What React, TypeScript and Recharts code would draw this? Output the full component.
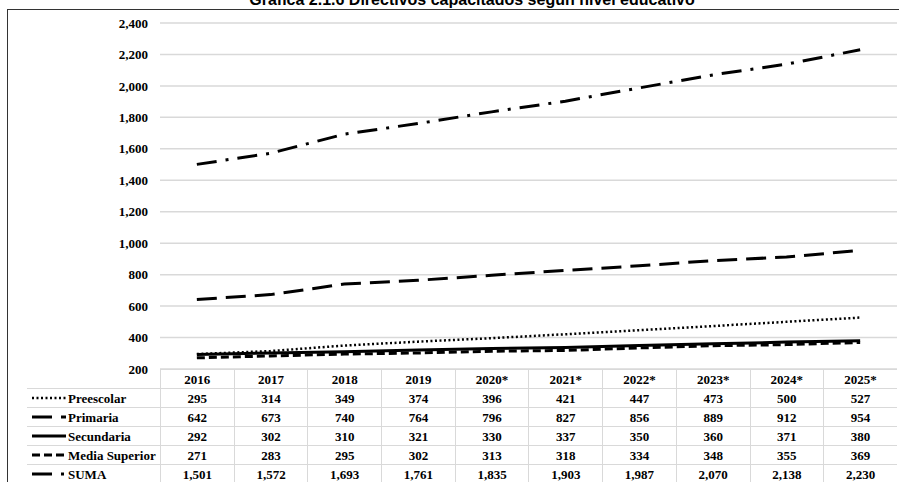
import React from "react";
import { LineChart, Line, XAxis, YAxis, CartesianGrid } from "recharts";

const years = ["2016", "2017", "2018", "2019", "2020*", "2021*", "2022*", "2023*", "2024*", "2025*"];
const preescolar = [295, 314, 349, 374, 396, 421, 447, 473, 500, 527];
const primaria = [642, 673, 740, 764, 796, 827, 856, 889, 912, 954];
const secundaria = [292, 302, 310, 321, 330, 337, 350, 360, 371, 380];
const mediaSuperior = [271, 283, 295, 302, 313, 318, 334, 348, 355, 369];
const suma = [1501, 1572, 1693, 1761, 1835, 1903, 1987, 2070, 2138, 2230];
const yTicks = [200, 400, 600, 800, 1000, 1200, 1400, 1600, 1800, 2000, 2200, 2400];

const series = [
  { key: "preescolar", name: "Preescolar", values: preescolar, dash: "2 2.5", width: 2.5 },
  { key: "primaria", name: "Primaria", values: primaria, dash: "20 9", width: 3 },
  { key: "secundaria", name: "Secundaria", values: secundaria, dash: undefined, width: 3 },
  { key: "mediaSuperior", name: "Media Superior", values: mediaSuperior, dash: "8 4", width: 3 },
  { key: "suma", name: "SUMA", values: suma, dash: "20 9 3 9", width: 3 },
];

const data = years.map((year, i) => {
  const row: Record<string, string | number> = { year };
  series.forEach((s) => (row[s.key] = s.values[i]));
  return row;
});

const W = 899;
const H = 482;
const PLOT_LEFT = 160;
const PLOT_RIGHT = 897;
const PLOT_TOP = 23;
const PLOT_BOTTOM = 369;
const COL_W = (PLOT_RIGHT - PLOT_LEFT) / years.length;
const ROW_H = 19;
const serif = "Liberation Serif, serif";
const gridColor = "#d9d9d9";

const fmt = (v: number) => v.toLocaleString("en-US");

function LegendKey({ dash, width }: { dash?: string; width: number }) {
  return (
    <svg width={34} height={10} style={{ display: "block" }}>
      <line x1={0} y1={5} x2={34} y2={5} stroke="#000" strokeWidth={width} strokeDasharray={dash} />
    </svg>
  );
}

export default function App() {
  return (
    <div style={{ position: "absolute", left: 0, top: 0, width: W, height: H, overflow: "hidden", background: "#fff" }}>
      <div
        style={{
          position: "absolute",
          left: 7,
          top: 9,
          width: W,
          height: H,
          border: "1px solid #333",
          boxSizing: "border-box",
        }}
      />
      <div
        style={{
          position: "absolute",
          left: 0,
          width: 944,
          top: -10,
          textAlign: "center",
          fontFamily: "Liberation Sans, Arial, sans-serif",
          fontWeight: "bold",
          fontSize: 16,
          lineHeight: "20px",
          whiteSpace: "nowrap",
        }}
      >
        Gráfica 2.1.6 Directivos capacitados según nivel educativo
      </div>
      <div style={{ position: "absolute", left: 0, top: 0 }}>
        <LineChart
          width={W}
          height={H}
          data={data}
          margin={{ top: PLOT_TOP, right: W - PLOT_RIGHT, left: 0, bottom: H - PLOT_BOTTOM }}
        >
          <CartesianGrid vertical={false} stroke={gridColor} strokeWidth={1.5} />
          <XAxis dataKey="year" hide padding={{ left: COL_W / 2, right: COL_W / 2 }} />
          <YAxis
            width={PLOT_LEFT}
            domain={[200, 2400]}
            ticks={yTicks}
            axisLine={false}
            tickLine={false}
            tickSize={0}
            tickMargin={12}
            tickFormatter={fmt}
            tick={{ fill: "#000", fontFamily: serif, fontWeight: "bold", fontSize: 13 }}
          />
          {series.map((s) => (
            <Line
              key={s.key}
              dataKey={s.key}
              name={s.name}
              stroke="#000"
              strokeWidth={s.width}
              strokeDasharray={s.dash}
              dot={false}
              activeDot={false}
              isAnimationActive={false}
            />
          ))}
        </LineChart>
      </div>
      {/* data table under the plot */}
      <div
        style={{
          position: "absolute",
          top: PLOT_BOTTOM,
          left: 0,
          fontFamily: serif,
          fontWeight: "bold",
          fontSize: 13,
          color: "#000",
        }}
      >
        <div style={{ display: "flex", height: ROW_H }}>
          <div style={{ width: PLOT_LEFT }} />
          {years.map((y) => (
            <div
              key={y}
              style={{
                width: COL_W,
                boxSizing: "border-box",
                borderLeft: `1px solid ${gridColor}`,
                borderTop: `1px solid ${gridColor}`,
                textAlign: "center",
                lineHeight: `${ROW_H}px`,
              }}
            >
              {y}
            </div>
          ))}
        </div>
        {series.map((s) => (
          <div key={s.key} style={{ display: "flex", height: ROW_H }}>
            <div
              style={{
                width: PLOT_LEFT - 27,
                marginLeft: 27,
                boxSizing: "border-box",
                borderTop: `1px solid ${gridColor}`,
                display: "flex",
                alignItems: "center",
                paddingLeft: 5,
              }}
            >
              <LegendKey dash={s.dash} width={s.width} />
              <span style={{ marginLeft: 2, lineHeight: `${ROW_H}px` }}>{s.name}</span>
            </div>
            {s.values.map((v, i) => (
              <div
                key={i}
                style={{
                  width: COL_W,
                  boxSizing: "border-box",
                  borderLeft: `1px solid ${gridColor}`,
                  borderTop: `1px solid ${gridColor}`,
                  textAlign: "center",
                  lineHeight: `${ROW_H}px`,
                }}
              >
                {fmt(v)}
              </div>
            ))}
          </div>
        ))}
      </div>
    </div>
  );
}
